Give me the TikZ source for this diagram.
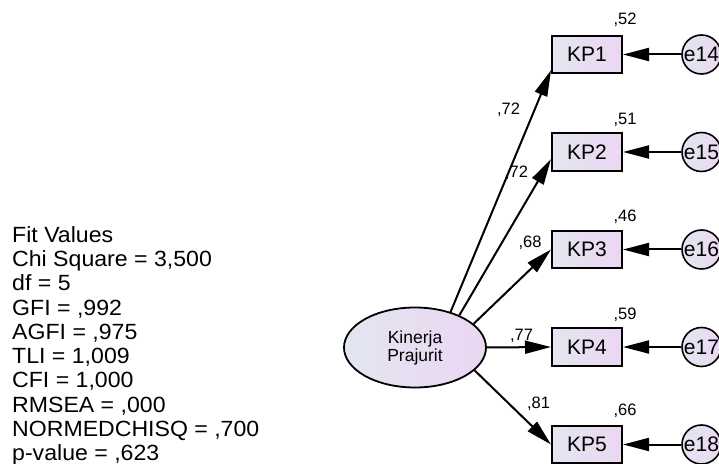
\documentclass[tikz,border=0pt]{standalone}
\usepackage{fontspec}
\setmainfont{Liberation Sans}
\newfontfamily\fitfont[FakeStretch=1.05]{Liberation Sans}
\usetikzlibrary{arrows.meta,shapes.geometric}
\definecolor{fillleft}{RGB}{226,230,240}
\definecolor{fillright}{RGB}{236,214,242}
\begin{document}
\begin{tikzpicture}[x=1pt,y=1pt,
  gradfill/.style={left color=fillleft, right color=fillright},
  observed/.style={draw=black, line width=2pt, gradfill, minimum width=70pt,
    minimum height=37.5pt, inner sep=0pt, font=\fontsize{21}{24}\selectfont},
  latent/.style={ellipse, draw=black, line width=1.8pt, gradfill, minimum width=142pt,
    minimum height=80pt, inner sep=0pt, align=center, font=\fontsize{17.5}{18}\selectfont},
  errvar/.style={circle, draw=black, line width=1.6pt, gradfill, minimum size=39pt,
    inner sep=0pt, font=\fontsize{21}{24}\selectfont},
  loading/.style={-{Triangle[length=26pt,width=13pt]}, line width=2pt},
  coef/.style={font=\fontsize{16.5}{18}\selectfont, inner sep=0pt, anchor=base},
]
\useasboundingbox (0,0) rectangle (719,463);

% latent factor
\node[latent] (lv) at (415,115.5) {Kinerja\\Prajurit};

% indicators
\node[observed] (kp1) at (587,408.5) {KP1};
\node[observed] (kp2) at (587,311) {KP2};
\node[observed] (kp3) at (587,213.5) {KP3};
\node[observed] (kp4) at (587,116) {KP4};
\node[observed] (kp5) at (587,18.5) {KP5};

% error terms
\node[errvar] (e14) at (701.5,408.5) {e14};
\node[errvar] (e15) at (701.5,311) {e15};
\node[errvar] (e16) at (701.5,213.5) {e16};
\node[errvar] (e17) at (701.5,116) {e17};
\node[errvar] (e18) at (701.5,18.5) {e18};

% factor loadings
\draw[loading] (lv.45) -- ([yshift=4pt]kp1.south west);
\draw[loading] (lv.36) -- ([yshift=-7pt]kp2.west);
\draw[loading] (lv.22) -- (kp3.west);
\draw[loading] (lv.east) -- (kp4.west);
\draw[loading] (lv.-21) -- (kp5.west);

% error paths
\foreach \e/\k in {e14/kp1,e15/kp2,e16/kp3,e17/kp4,e18/kp5}
  \draw[loading] (\e.west) -- (\k.east);

% standardized loadings
\node[coef] (l1) at (508.5,348) {,72};
\node[coef] (l2) at (516.5,285) {,72};
\node[coef] (l3) at (530,215.5) {,68};
\node[coef] (l4) at (521.5,123) {,77};
\node[coef] (l5) at (538.5,55) {,81};

% squared multiple correlations
\node[coef] (r1) at (625,438) {,52};
\node[coef] (r2) at (625,338) {,51};
\node[coef] (r3) at (625,241) {,46};
\node[coef] (r4) at (625,143) {,59};
\node[coef] (r5) at (625,48) {,66};

% fit statistics (base anchor sits on the last line)
\node[anchor=base west, inner sep=0pt, align=left,
  font=\fitfont\fontsize{22}{24.25}\selectfont] (fit) at (12,2.5)
  {Fit Values\\Chi Square = 3,500\\df = 5\\GFI = ,992\\AGFI = ,975\\TLI = 1,009\\CFI = 1,000\\RMSEA = ,000\\NORMEDCHISQ = ,700\\p-value = ,623};
\end{tikzpicture}
\end{document}
